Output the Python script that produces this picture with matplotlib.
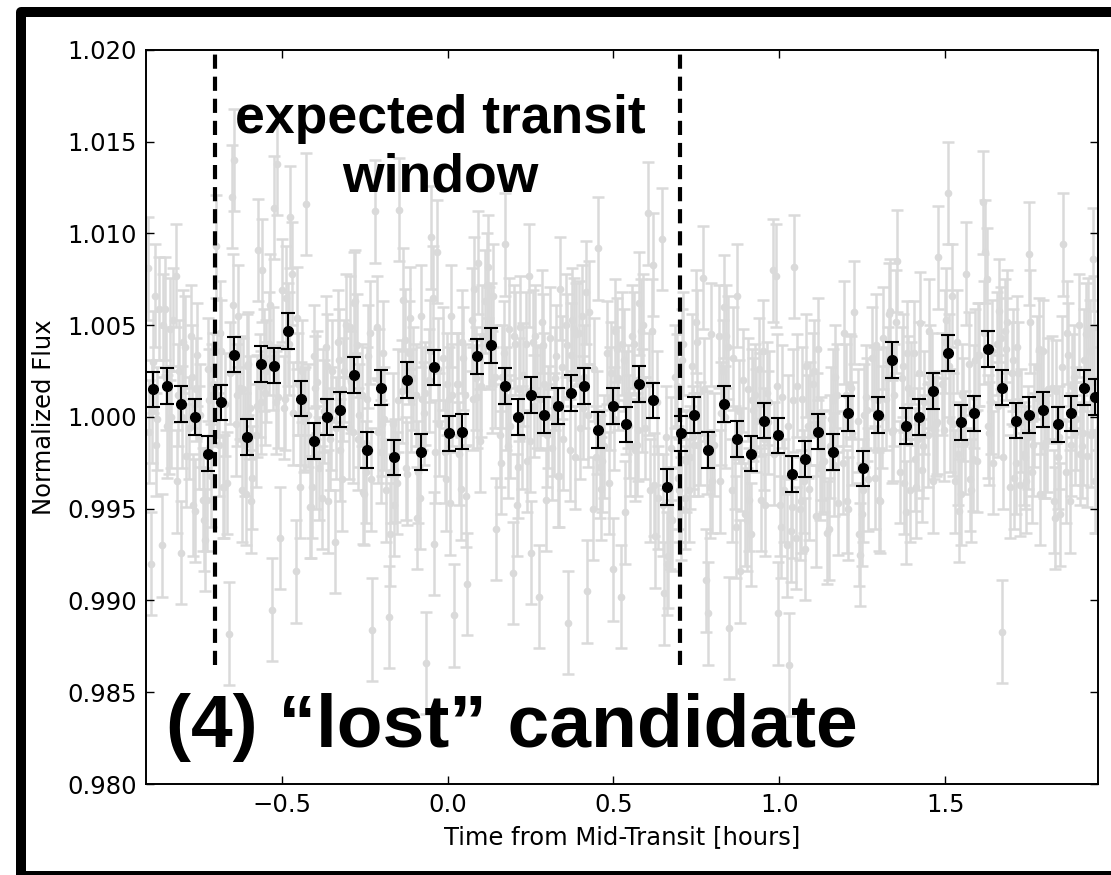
import matplotlib
matplotlib.use('Agg')
import matplotlib.pyplot as plt
from matplotlib.patches import Rectangle

# binned light curve (black points)
bin_time = [-0.887, -0.845, -0.804, -0.762, -0.722, -0.682, -0.643, -0.604, -0.562, -0.522,
            -0.482, -0.442, -0.404, -0.363, -0.323, -0.282, -0.243, -0.202, -0.161, -0.121,
            -0.080, -0.041, 0.003, 0.044, 0.089, 0.130, 0.173, 0.212, 0.253, 0.292,
            0.332, 0.372, 0.412, 0.455, 0.498, 0.539, 0.578, 0.619, 0.662, 0.703,
            0.744, 0.786, 0.833, 0.874, 0.914, 0.954, 0.997, 1.038, 1.078, 1.118,
            1.161, 1.208, 1.253, 1.297, 1.339, 1.381, 1.421, 1.464, 1.508, 1.547,
            1.587, 1.629, 1.672, 1.713, 1.753, 1.794, 1.839, 1.880, 1.920, 1.952]
bin_flux = [1.0015, 1.0017, 1.0007, 1.0000, 0.9980, 1.0008, 1.0034, 0.9989, 1.0029, 1.0028,
            1.0047, 1.0010, 0.9987, 1.0000, 1.0004, 1.0023, 0.9982, 1.0016, 0.9978, 1.0020,
            0.9981, 1.0027, 0.9991, 0.9992, 1.0033, 1.0039, 1.0017, 1.0000, 1.0012, 1.0001,
            1.0006, 1.0013, 1.0017, 0.9993, 1.0006, 0.9996, 1.0018, 1.0009, 0.9962, 0.9991,
            1.0001, 0.9982, 1.0007, 0.9988, 0.9980, 0.9998, 0.9990, 0.9969, 0.9977, 0.9992,
            0.9981, 1.0002, 0.9972, 1.0001, 1.0031, 0.9995, 1.0000, 1.0014, 1.0035, 0.9997,
            1.0002, 1.0037, 1.0016, 0.9998, 1.0001, 1.0004, 0.9996, 1.0002, 1.0016, 1.0011]
bin_err = 0.00097

# unbinned light curve (grey points), first set
raw_time = [
    -0.903, -0.895, -0.887, -0.879, -0.871, -0.861, -0.853, -0.845, -0.837, -0.829,
    -0.820, -0.812, -0.804, -0.796, -0.788, -0.778, -0.770, -0.762, -0.754, -0.746,
    -0.738, -0.730, -0.722, -0.714, -0.706, -0.698, -0.690, -0.682, -0.674, -0.666,
    -0.659, -0.651, -0.643, -0.635, -0.627, -0.620, -0.612, -0.604, -0.596, -0.588,
    -0.578, -0.570, -0.562, -0.554, -0.546, -0.538, -0.530, -0.522, -0.514, -0.506,
    -0.498, -0.490, -0.482, -0.474, -0.466, -0.458, -0.450, -0.442, -0.434, -0.426,
    -0.420, -0.412, -0.404, -0.396, -0.388, -0.379, -0.371, -0.363, -0.355, -0.347,
    -0.339, -0.331, -0.323, -0.315, -0.307, -0.298, -0.290, -0.282, -0.274, -0.266,
    -0.259, -0.251, -0.243, -0.235, -0.227, -0.218, -0.210, -0.202, -0.194, -0.186,
    -0.177, -0.169, -0.161, -0.153, -0.145, -0.137, -0.129, -0.121, -0.113, -0.105,
    -0.096, -0.088, -0.080, -0.072, -0.064, -0.057, -0.049, -0.041, -0.033, -0.025,
    -0.013, -0.005, 0.003, 0.011, 0.019, 0.028, 0.036, 0.044, 0.052, 0.060,
    0.073, 0.081, 0.089, 0.097, 0.105, 0.114, 0.122, 0.130, 0.138, 0.146,
    0.157, 0.165, 0.173, 0.181, 0.189, 0.196, 0.204, 0.212, 0.220, 0.228,
    0.237, 0.245, 0.253, 0.261, 0.269, 0.276, 0.284, 0.292, 0.300, 0.308,
    0.316, 0.324, 0.332, 0.340, 0.348, 0.356, 0.364, 0.372, 0.380, 0.388,
    0.396, 0.404, 0.412, 0.420, 0.428, 0.439, 0.447, 0.455, 0.463, 0.471,
    0.482, 0.490, 0.498, 0.506, 0.514, 0.523, 0.531, 0.539, 0.547, 0.555,
    0.562, 0.570, 0.578, 0.586, 0.594, 0.603, 0.611, 0.619, 0.627, 0.635,
    0.646, 0.654, 0.662, 0.670, 0.678, 0.687, 0.695, 0.703, 0.711, 0.719,
    0.728, 0.736, 0.744, 0.752, 0.760, 0.770, 0.778, 0.786, 0.794, 0.802,
    0.817, 0.825, 0.833, 0.841, 0.849, 0.858, 0.866, 0.874, 0.882, 0.890,
    0.898, 0.906, 0.914, 0.922, 0.930, 0.938, 0.946, 0.954, 0.962, 0.970,
    0.981, 0.989, 0.997, 1.005, 1.013, 1.022, 1.030, 1.038, 1.046, 1.054,
    1.062, 1.070, 1.078, 1.086, 1.094, 1.102, 1.110, 1.118, 1.126, 1.134,
    1.145, 1.153, 1.161, 1.169, 1.177, 1.192, 1.200, 1.208, 1.216, 1.224,
    1.237, 1.245, 1.253, 1.261, 1.269, 1.281, 1.289, 1.297, 1.305, 1.313,
    1.323, 1.331, 1.339, 1.347, 1.355, 1.365, 1.373, 1.381, 1.389, 1.397,
    1.405, 1.413, 1.421, 1.429, 1.437, 1.448, 1.456, 1.464, 1.472, 1.480,
    1.492, 1.500, 1.508, 1.516, 1.524, 1.531, 1.539, 1.547, 1.555, 1.563,
    1.571, 1.579, 1.587, 1.595, 1.603, 1.613, 1.621, 1.629, 1.637, 1.645,
    1.656, 1.664, 1.672, 1.680, 1.688, 1.697, 1.705, 1.713, 1.721, 1.729,
    1.737, 1.745, 1.753, 1.761, 1.769, 1.778, 1.786, 1.794, 1.802, 1.810,
    1.823, 1.831, 1.839, 1.847, 1.855, 1.864, 1.872, 1.880, 1.888, 1.896,
    1.904, 1.912, 1.920, 1.928, 1.936, 1.940, 1.946, 1.952, 1.958, 1.964]
raw_flux = [
    1.0081, 0.9920, 1.0030, 0.9985, 1.0059, 0.9930, 1.0059, 0.9995, 1.0048, 1.0053,
    1.0077, 1.0012, 0.9926, 1.0041, 0.9979, 0.9994, 1.0022, 0.9949, 1.0034, 1.0001,
    0.9955, 0.9933, 1.0026, 0.9968, 1.0018, 1.0093, 0.9985, 1.0036, 0.9962, 0.9964,
    0.9882, 1.0120, 1.0140, 1.0012, 1.0016, 0.9960, 0.9985, 1.0028, 1.0005, 0.9967,
    0.9990, 1.0091, 1.0008, 1.0031, 1.0025, 1.0040, 0.9895, 1.0114, 1.0138, 0.9934,
    1.0069, 1.0010, 1.0045, 1.0109, 1.0002, 0.9916, 1.0018, 1.0002, 0.9998, 1.0116,
    1.0001, 0.9951, 1.0033, 0.9978, 0.9972, 0.9956, 1.0003, 1.0028, 0.9988, 1.0025,
    0.9932, 1.0041, 0.9982, 1.0015, 1.0050, 0.9994, 1.0019, 1.0062, 1.0039, 1.0001,
    1.0012, 0.9958, 1.0010, 1.0046, 0.9884, 1.0112, 0.9992, 0.9981, 1.0035, 0.9960,
    0.9891, 0.9970, 0.9952, 0.9964, 1.0113, 1.0014, 1.0042, 0.9969, 1.0054, 1.0021,
    1.0012, 0.9970, 1.0055, 1.0002, 0.9866, 1.0020, 1.0098, 0.9931, 1.0090, 0.9996,
    1.0032, 0.9966, 1.0010, 1.0055, 0.9892, 1.0018, 0.9980, 1.0041, 1.0012, 0.9909,
    1.0053, 1.0070, 1.0011, 0.9987, 1.0044, 1.0063, 1.0082, 1.0045, 1.0066, 0.9939,
    0.9990, 1.0022, 1.0094, 0.9984, 0.9995, 0.9915, 1.0040, 0.9973, 1.0049, 1.0023,
    1.0040, 1.0077, 0.9926, 1.0006, 1.0011, 0.9902, 1.0052, 1.0018, 0.9990, 1.0043,
    0.9983, 1.0021, 0.9968, 1.0070, 0.9988, 1.0050, 0.9888, 1.0034, 1.0048, 1.0045,
    1.0046, 1.0055, 1.0022, 0.9905, 1.0057, 0.9950, 0.9978, 1.0092, 0.9961, 0.9984,
    1.0035, 1.0010, 0.9917, 1.0047, 1.0021, 0.9902, 1.0031, 1.0008, 0.9995, 1.0044,
    1.0040, 0.9985, 1.0062, 1.0009, 0.9994, 1.0111, 0.9960, 1.0083, 0.9935, 0.9956,
    1.0097, 0.9904, 0.9920, 0.9945, 0.9944, 1.0022, 0.9967, 0.9950, 1.0040, 0.9976,
    0.9960, 1.0028, 0.9985, 1.0041, 0.9991, 1.0076, 0.9911, 0.9893, 1.0045, 0.9985,
    1.0044, 1.0002, 1.0060, 1.0044, 0.9885, 0.9960, 0.9978, 1.0066, 0.9916, 1.0020,
    0.9947, 1.0015, 0.9936, 1.0004, 0.9998, 1.0026, 0.9955, 0.9988, 1.0013, 1.0008,
    1.0080, 1.0077, 0.9893, 0.9940, 0.9960, 0.9930, 0.9865, 0.9951, 1.0082, 1.0017,
    0.9950, 1.0010, 0.9928, 0.9995, 1.0002, 1.0018, 0.9946, 1.0037, 0.9983, 0.9976,
    0.9937, 0.9984, 1.0009, 1.0022, 0.9953, 0.9975, 1.0012, 0.9950, 1.0016, 1.0057,
    0.9998, 0.9925, 0.9960, 1.0011, 0.9966, 1.0032, 0.9967, 1.0009, 0.9954, 1.0043,
    1.0010, 1.0056, 0.9992, 1.0012, 1.0085, 0.9970, 1.0028, 0.9948, 1.0016, 1.0013,
    1.0035, 0.9962, 1.0024, 0.9971, 1.0008, 0.9990, 1.0022, 0.9965, 0.9996, 1.0087,
    1.0018, 1.0041, 1.0122, 0.9998, 0.9996, 0.9965, 0.9980, 0.9958, 1.0004, 1.0078,
    1.0029, 0.9960, 1.0011, 0.9976, 1.0034, 1.0117, 1.0090, 0.9995, 1.0008, 0.9975,
    1.0040, 1.0058, 0.9883, 1.0047, 1.0052, 0.9962, 1.0031, 0.9975, 1.0024, 0.9998,
    0.9980, 0.9965, 1.0089, 0.9970, 1.0001, 1.0027, 0.9958, 1.0036, 0.9984, 1.0015,
    1.0016, 0.9945, 0.9978, 0.9947, 1.0094, 0.9970, 1.0034, 0.9985, 1.0022, 0.9999,
    1.0050, 0.9984, 1.0031, 0.9979, 1.0036, 0.9990, 1.0086, 0.9965, 1.0020, 0.9994]

# unbinned light curve (grey points), interleaved second set
raw2_time = [
    -0.899, -0.891, -0.883, -0.875, -0.857, -0.849, -0.841, -0.833,
    -0.816, -0.808, -0.800, -0.792, -0.774, -0.766, -0.758, -0.750,
    -0.734, -0.726, -0.718, -0.710, -0.694, -0.686, -0.678, -0.670,
    -0.655, -0.647, -0.639, -0.631, -0.616, -0.608, -0.600, -0.592,
    -0.574, -0.566, -0.558, -0.550, -0.534, -0.526, -0.518, -0.510,
    -0.494, -0.486, -0.478, -0.470, -0.454, -0.446, -0.438, -0.430,
    -0.416, -0.408, -0.400, -0.392, -0.375, -0.367, -0.359, -0.351,
    -0.335, -0.327, -0.319, -0.311, -0.294, -0.286, -0.278, -0.270,
    -0.255, -0.247, -0.239, -0.231, -0.214, -0.206, -0.198, -0.190,
    -0.173, -0.165, -0.157, -0.149, -0.133, -0.125, -0.117, -0.109,
    -0.092, -0.084, -0.076, -0.068, -0.053, -0.045, -0.037, -0.029,
    -0.009, -0.001, 0.007, 0.015, 0.032, 0.040, 0.048, 0.056,
    0.077, 0.085, 0.093, 0.101, 0.118, 0.126, 0.134, 0.142,
    0.161, 0.169, 0.177, 0.185, 0.200, 0.208, 0.216, 0.224,
    0.241, 0.249, 0.257, 0.265, 0.280, 0.288, 0.296, 0.304,
    0.320, 0.328, 0.336, 0.344, 0.360, 0.368, 0.376, 0.384,
    0.400, 0.408, 0.416, 0.424, 0.443, 0.451, 0.459, 0.467,
    0.486, 0.494, 0.502, 0.510, 0.527, 0.535, 0.543, 0.551,
    0.566, 0.574, 0.582, 0.590, 0.607, 0.615, 0.623, 0.631,
    0.650, 0.658, 0.666, 0.674, 0.691, 0.699, 0.707, 0.715,
    0.732, 0.740, 0.748, 0.756, 0.774, 0.782, 0.790, 0.798,
    0.821, 0.829, 0.837, 0.845, 0.862, 0.870, 0.878, 0.886,
    0.902, 0.910, 0.918, 0.926, 0.942, 0.950, 0.958, 0.966,
    0.985, 0.993, 1.001, 1.009, 1.026, 1.034, 1.042, 1.050,
    1.066, 1.074, 1.082, 1.090, 1.106, 1.114, 1.122, 1.130,
    1.149, 1.157, 1.165, 1.173, 1.196, 1.204, 1.212, 1.220,
    1.241, 1.249, 1.257, 1.265, 1.285, 1.293, 1.301, 1.309,
    1.327, 1.335, 1.343, 1.351, 1.369, 1.377, 1.385, 1.393,
    1.409, 1.417, 1.425, 1.433, 1.452, 1.460, 1.468, 1.476,
    1.496, 1.504, 1.512, 1.520, 1.535, 1.543, 1.551, 1.559,
    1.575, 1.583, 1.591, 1.599, 1.617, 1.625, 1.633, 1.641,
    1.660, 1.668, 1.676, 1.684, 1.701, 1.709, 1.717, 1.725,
    1.741, 1.749, 1.757, 1.765, 1.782, 1.790, 1.798, 1.806,
    1.827, 1.835, 1.843, 1.851, 1.868, 1.876, 1.884, 1.892,
    1.908, 1.916, 1.924, 1.932, 1.943, 1.949, 1.955, 1.961]
raw2_flux = [
    0.9992, 1.0003, 1.0066, 0.9999, 1.0050, 1.0021, 0.9997, 1.0000,
    0.9965, 1.0025, 1.0000, 1.0038, 1.0044, 0.9952, 1.0015, 0.9989,
    0.9944, 0.9955, 1.0009, 1.0012, 1.0017, 1.0046, 0.9962, 1.0007,
    1.0024, 1.0061, 0.9996, 1.0055, 1.0015, 0.9958, 1.0029, 0.9954,
    1.0006, 1.0017, 1.0080, 1.0013, 1.0061, 1.0032, 1.0008, 1.0011,
    1.0005, 1.0065, 1.0040, 1.0078, 1.0054, 0.9962, 1.0025, 0.9999,
    0.9951, 0.9962, 1.0016, 1.0019, 1.0009, 1.0038, 0.9954, 0.9999,
    0.9994, 1.0031, 0.9966, 1.0025, 1.0049, 0.9992, 1.0063, 0.9988,
    0.9959, 0.9970, 1.0033, 0.9966, 1.0049, 1.0020, 0.9996, 0.9999,
    0.9936, 0.9996, 0.9971, 1.0009, 1.0064, 0.9972, 1.0035, 1.0009,
    0.9945, 0.9956, 1.0010, 1.0013, 1.0036, 1.0065, 0.9981, 1.0026,
    0.9981, 1.0018, 0.9953, 1.0012, 1.0018, 0.9961, 1.0032, 0.9957,
    1.0010, 1.0021, 1.0084, 1.0017, 1.0072, 1.0043, 1.0019, 1.0022,
    0.9975, 1.0035, 1.0010, 1.0048, 1.0044, 0.9952, 1.0015, 0.9989,
    0.9976, 0.9987, 1.0041, 1.0044, 1.0010, 1.0039, 0.9955, 1.0000,
    0.9996, 1.0033, 0.9968, 1.0027, 1.0039, 0.9982, 1.0053, 0.9978,
    0.9994, 1.0005, 1.0068, 1.0001, 1.0026, 0.9997, 0.9973, 0.9976,
    0.9964, 1.0024, 0.9999, 1.0037, 1.0040, 0.9948, 1.0011, 0.9985,
    0.9982, 0.9993, 1.0047, 1.0050, 1.0018, 1.0047, 0.9963, 1.0008,
    0.9952, 0.9989, 0.9924, 0.9983, 1.0017, 0.9960, 1.0031, 0.9956,
    0.9978, 0.9989, 1.0052, 0.9985, 1.0015, 0.9986, 0.9962, 0.9965,
    0.9965, 1.0025, 1.0000, 1.0038, 1.0032, 0.9940, 1.0003, 0.9977,
    0.9944, 0.9955, 1.0009, 1.0012, 1.0007, 1.0036, 0.9952, 0.9997,
    0.9980, 1.0017, 0.9952, 1.0011, 0.9995, 0.9938, 1.0009, 0.9934,
    0.9954, 0.9965, 1.0028, 0.9961, 1.0025, 0.9996, 0.9972, 0.9975,
    0.9939, 0.9999, 0.9974, 1.0012, 1.0046, 0.9954, 1.0017, 0.9991,
    0.9936, 0.9947, 1.0001, 1.0004, 1.0010, 1.0039, 0.9955, 1.0000,
    1.0021, 1.0058, 0.9993, 1.0052, 1.0021, 0.9964, 1.0035, 0.9960,
    0.9977, 0.9988, 1.0051, 0.9984, 1.0047, 1.0018, 0.9994, 0.9997,
    0.9993, 1.0053, 1.0028, 1.0066, 1.0041, 0.9949, 1.0012, 0.9986,
    0.9966, 0.9977, 1.0031, 1.0034, 1.0046, 1.0075, 0.9991, 1.0036,
    1.0006, 1.0043, 0.9978, 1.0037, 1.0024, 0.9967, 1.0038, 0.9963,
    0.9978, 0.9989, 1.0052, 0.9985, 1.0037, 1.0008, 0.9984, 0.9987,
    0.9954, 1.0014, 0.9989, 1.0027, 1.0046, 0.9954, 1.0017, 0.9991,
    0.9980, 0.9991, 1.0045, 1.0048, 1.0020, 1.0049, 0.9965, 1.0010]
raw_err = 0.0028

window_edges = [-0.7, 0.7]

fig = plt.figure(figsize=(11.11, 8.75), dpi=100)
ax = fig.add_axes([0.1314, 0.104, 0.8569, 0.8389])

ax.errorbar(raw_time + raw2_time, raw_flux + raw2_flux, yerr=raw_err, fmt='o',
            color='#dadada', ms=4.5, elinewidth=1.8, capsize=4.3, capthick=1.8,
            zorder=1)
ax.errorbar(bin_time, bin_flux, yerr=bin_err, fmt='o', color='black', ms=7,
            elinewidth=1.5, capsize=4.8, capthick=1.5, zorder=3)

for t in window_edges:
    ax.plot([t, t], [0.9865, 1.020], color='black', lw=3, dashes=(3.4, 1.9), zorder=4)

ax.text(-0.023, 1.0123, 'expected transit\nwindow', ha='center', va='baseline',
        multialignment='center', fontsize=38.5, fontweight='bold',
        family='Liberation Sans', zorder=5)
ax.text(-0.848, 0.9820, '(4) \u201clost\u201d candidate', ha='left', va='baseline',
        fontsize=54, fontweight='bold', family='Liberation Sans', zorder=5)

ax.set_xlim(-0.909, 1.961)
ax.set_ylim(0.980, 1.020)
ax.set_xticks([-0.5, 0.0, 0.5, 1.0, 1.5])
ax.set_yticks([0.980, 0.985, 0.990, 0.995, 1.000, 1.005, 1.010, 1.015, 1.020])
ax.yaxis.set_major_formatter(matplotlib.ticker.FormatStrFormatter('%.3f'))
ax.tick_params(direction='in', top=True, right=True, length=6, width=1,
               labelsize=17.5, pad=6.5)
for s in ax.spines.values():
    s.set_linewidth(1.4)

ax.set_xlabel('Time from Mid-Transit [hours]', fontsize=17.5, labelpad=6)
ax.set_ylabel('Normalized Flux', fontsize=17.5, labelpad=8)

# rounded black frame around the panel
fig.patches.append(Rectangle((21 / 1111, -0.5 / 875), 1.1, 863.8 / 875,
                             transform=fig.transFigure, fill=False,
                             edgecolor='black', lw=7.2, joinstyle='round',
                             zorder=10))

fig.savefig('out.png', dpi=100)
